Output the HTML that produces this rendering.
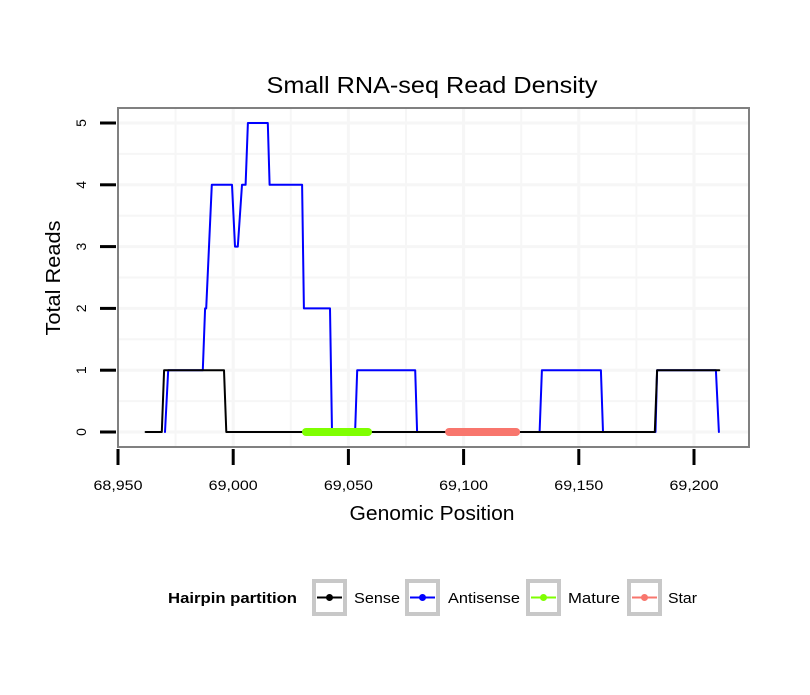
<!DOCTYPE html>
<html><head><meta charset="utf-8"><style>
body{margin:0;background:#fff;}
svg text{font-family:"Liberation Sans",Arial,sans-serif;}
</style></head><body>
<svg id="chart" width="810" height="690" xmlns="http://www.w3.org/2000/svg">
<rect width="810" height="690" fill="#fff"/>
<text x="432" y="93" font-size="23" text-anchor="middle" textLength="331" lengthAdjust="spacingAndGlyphs">Small RNA-seq Read Density</text>
<g id="grid"></g>
<g id="series"></g>
<rect x="118" y="108" width="631" height="339" fill="none" stroke="#808080" stroke-width="2"/>
<g id="axes"></g>
<text x="432" y="520" font-size="20" text-anchor="middle" textLength="165" lengthAdjust="spacingAndGlyphs">Genomic Position</text>
<text transform="translate(60,278) rotate(-90)" font-size="20" text-anchor="middle" textLength="115" lengthAdjust="spacingAndGlyphs">Total Reads</text>
<g>
<text x="168" y="603" font-size="15" font-weight="bold" textLength="129" lengthAdjust="spacingAndGlyphs">Hairpin partition</text>
<g id="legend"></g>
</g>
</svg>
<script>
const xTicks=[68950,69000,69050,69100,69150,69200];
const xTickLabels=["68,950","69,000","69,050","69,100","69,150","69,200"];
const yTicks=[0,1,2,3,4,5];
const senseX=[68962,68969,68970,68996,68997,69183,69184,69211];
const senseY=[0,0,1,1,0,0,1,1];
const antiX=[68970.4,68971.8,68986.8,68987.8,68988.3,68990.7,68999.5,69000.8,69002,69003.8,69005.4,69006.4,69015,69015.8,69029.9,69030.7,69042,69042.9,69052.9,69053.8,69079,69079.8,69133,69134,69159.6,69160.5,69183.3,69184,69209.5,69210.8];
const antiY=[0,1,1,2,2,4,4,3,3,4,4,5,5,4,4,2,2,0,0,1,1,0,0,1,1,0,0,1,1,0];
const matureX=[69031.6,69058.5];
const starX=[69093.7,69122.8];
const legendLabels=["Sense","Antisense","Mature","Star"];
const legendColors=["#000000","#0000ff","#7fff00","#f8766d"];

const NS="http://www.w3.org/2000/svg";
const sx=v=>118+(v-68950)*2.304;
const sy=v=>432-v*61.8;
function mk(tag,attrs,parent){const e=document.createElementNS(NS,tag);for(const k in attrs)e.setAttribute(k,attrs[k]);parent.appendChild(e);return e;}
const grid=document.getElementById('grid'),series=document.getElementById('series'),axes=document.getElementById('axes'),legend=document.getElementById('legend');
for(let i=0;i<xTicks.length;i++){
  for(const v of [xTicks[i],xTicks[i]+25]){const x=sx(v);if(x<=119||x>=748)continue;
    const l=mk('line',{x1:x,x2:x,y1:109,y2:446,stroke:'#f6f6f6','stroke-width':v===xTicks[i]?3:2},grid);
    
    }
}
for(const t of yTicks){for(const v of [t,t+0.5]){const y=sy(v);if(y<=109||y>=446)continue;
    const l=mk('line',{x1:119,x2:748,y1:y,y2:y,stroke:'#f6f6f6','stroke-width':v===t?3:2},grid);
    
    }}
xTicks.forEach((v,i)=>{const x=sx(v);
  const t=mk('line',{x1:x,x2:x,y1:449,y2:465,stroke:'#000','stroke-width':3},axes);
  
  
  const tx=mk('text',{x:x,y:490,'font-size':14,'text-anchor':'middle',textLength:49,lengthAdjust:'spacingAndGlyphs'},axes);tx.textContent=xTickLabels[i];
  
  
});
yTicks.forEach(v=>{const y=sy(v);
  const t=mk('line',{x1:100,x2:116,y1:y,y2:y,stroke:'#000','stroke-width':3},axes);
  
  
  const tx=mk('text',{transform:`translate(86,${y}) rotate(-90)`,'font-size':14,'text-anchor':'middle'},axes);tx.textContent=String(v);
  
  
});
function path(xs,ys,color,w,name){const d=xs.map((v,i)=>(i?'L':'M')+sx(v).toFixed(1)+','+sy(ys[i]).toFixed(1)).join('');
  const p=mk('path',{d:d,fill:'none',stroke:color,'stroke-width':w,'stroke-linejoin':'round','stroke-linecap':'round'},series);
  
  }
path(antiX,antiY,'#0000ff',2,'antisense-line');
path(senseX,senseY,'#000000',2,'sense-line');
path(matureX,[0,0],'#7fff00',8,'mature-segment');
path(starX,[0,0],'#f8766d',8,'star-segment');
const lx=[314,407,528,629],ltx=[354,448,568,668],lw=[46,72,52,29];
legendLabels.forEach((lab,i)=>{
  const g=mk('g',{},legend);
  
  
  mk('rect',{x:lx[i],y:581,width:31,height:33,fill:'#fff',stroke:'#c8c8c8','stroke-width':4},g);
  mk('line',{x1:lx[i]+3,x2:lx[i]+28,y1:597.5,y2:597.5,stroke:legendColors[i],'stroke-width':2},g);
  mk('circle',{cx:lx[i]+15.5,cy:597.5,r:3.5,fill:legendColors[i]},g);
  const t=mk('text',{x:ltx[i],y:603,'font-size':15,textLength:lw[i],lengthAdjust:'spacingAndGlyphs'},g);t.textContent=lab;
});
</script>
</body></html>
